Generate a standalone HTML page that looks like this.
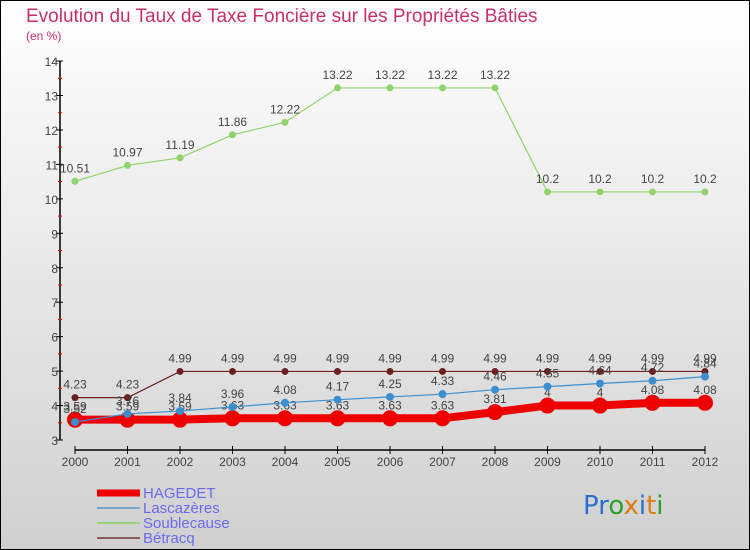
<!DOCTYPE html>
<html><head><meta charset="utf-8"><style>
body{margin:0;}
svg{display:block;font-family:"Liberation Sans",sans-serif;}
</style></head><body>
<svg id="chart" width="750" height="550" viewBox="0 0 750 550">
<defs><linearGradient id="bg" x1="0" y1="0" x2="0" y2="1"><stop offset="0" stop-color="#ffffff"/><stop offset="1" stop-color="#d0d0d0"/></linearGradient></defs>
<rect x="0" y="0" width="750" height="550" fill="url(#bg)"/>
<rect x="0.5" y="0.5" width="749" height="549" fill="none" stroke="#000"/>
<text x="26" y="22" font-size="19" fill="#c8306a">Evolution du Taux de Taxe Foncière sur les Propriétés Bâties</text>
<text x="26" y="40" font-size="12" fill="#c8306a">(en %)</text>
<g id="axes"></g>
<g id="series"></g>
<g id="legend"></g>
<text x="583" y="514" font-size="26" font-family="'DejaVu Sans',sans-serif"><tspan fill="#2a6fd0">Pr</tspan><tspan fill="#2da02d">o</tspan><tspan fill="#e07b10">x</tspan><tspan fill="#2a6fd0">i</tspan><tspan fill="#e07b10">t</tspan><tspan fill="#2da02d">i</tspan></text>
</svg>
<script>
const years=[2000,2001,2002,2003,2004,2005,2006,2007,2008,2009,2010,2011,2012];
const yTicks=[3,4,5,6,7,8,9,10,11,12,13,14];
const hagedet=[3.59,3.59,3.59,3.63,3.63,3.63,3.63,3.63,3.81,4,4,4.08,4.08];
const lascazeres=[3.52,3.76,3.84,3.96,4.08,4.17,4.25,4.33,4.46,4.55,4.64,4.72,4.84];
const soublecause=[10.51,10.97,11.19,11.86,12.22,13.22,13.22,13.22,13.22,10.2,10.2,10.2,10.2];
const betracq=[4.23,4.23,4.99,4.99,4.99,4.99,4.99,4.99,4.99,4.99,4.99,4.99,4.99];
const NS="http://www.w3.org/2000/svg";
const X=i=>75+i*52.5;
const Y=v=>440-(v-3)*34.45;
function mk(tag,attrs,parent){const e=document.createElementNS(NS,tag);for(const k in attrs)e.setAttribute(k,attrs[k]);parent.appendChild(e);return e;}
const axes=document.getElementById('axes');
let a=mk('line',{x1:60,y1:Y(14),x2:60,y2:Y(3),stroke:'#000','stroke-width':1.5},axes);


yTicks.forEach(t=>{
  let l=mk('line',{x1:56,y1:Y(t),x2:63,y2:Y(t),stroke:'#000'},axes);
  
  
  let tx=mk('text',{x:58,y:Y(t)+5,'font-size':12,fill:'#444','text-anchor':'end'},axes);tx.textContent=t;
  
  
  if(t<14){let m=mk('line',{x1:58,y1:Y(t+0.5),x2:62,y2:Y(t+0.5),stroke:'#e00'},axes);
  
  }
});
let xa=mk('line',{x1:X(0),y1:450,x2:X(12),y2:450,stroke:'#000','stroke-width':1.5},axes);


years.forEach((y,i)=>{
  let l=mk('line',{x1:X(i),y1:446,x2:X(i),y2:454,stroke:'#000'},axes);
  
  
  let tx=mk('text',{x:X(i),y:466,'font-size':12,fill:'#444','text-anchor':'middle'},axes);tx.textContent=y;
  
  
});
const sg=document.getElementById('series');
function draw(vals,color,w,r,name){
  const g=mk('g',{},sg);
  
  
  let p=mk('polyline',{points:vals.map((v,i)=>X(i)+','+Y(v)).join(' '),fill:'none',stroke:color,'stroke-width':w},g);
  
  
  vals.forEach((v,i)=>{
    let c=mk('circle',{cx:X(i),cy:Y(v),r:r,fill:color},g);
    
    
    let t=mk('text',{x:X(i),y:Y(v)-9,'font-size':12,fill:'#444','text-anchor':'middle'},g);t.textContent=v;
    
    
  });
}
draw(soublecause,'#8fd46a',1.2,3.5,'soublecause');
draw(betracq,'#6b1f1f',1.2,3.5,'betracq');
draw(hagedet,'#ee0000',8,8,'hagedet');
draw(lascazeres,'#3b8fd0',1.2,4,'lascazeres');
const lg=document.getElementById('legend');
[['HAGEDET','#ee0000',7],['Lascazères','#7aa5c8',2],['Soublecause','#9ad27a',2],['Bétracq','#8a5b5b',2]].forEach((d,i)=>{
  const y=493+i*15;
  let l=mk('line',{x1:97,y1:y,x2:140,y2:y,stroke:d[1],'stroke-width':d[2]},lg);
  
  
  let t=mk('text',{x:143,y:y+5,'font-size':15,fill:'#6a6af0'},lg);t.textContent=d[0];
  
  
});
</script>
</body></html>
